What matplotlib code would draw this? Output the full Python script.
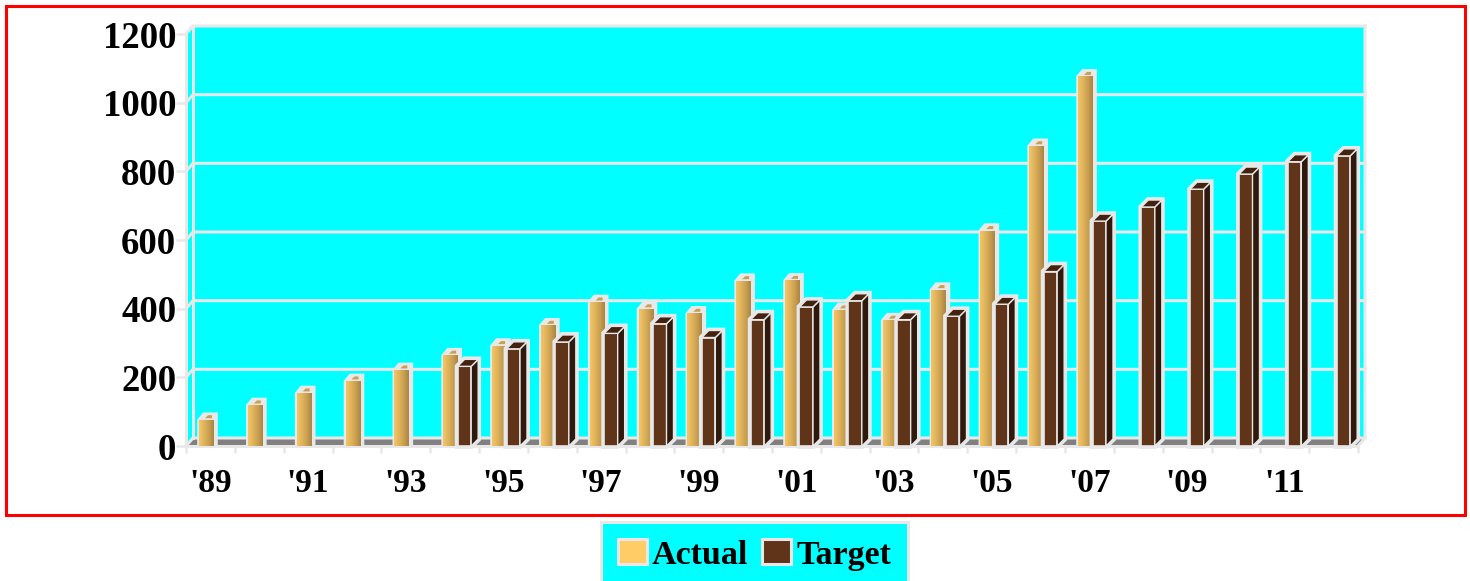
import numpy as np
import matplotlib
matplotlib.use("Agg")
import matplotlib.pyplot as plt
from matplotlib.colors import LinearSegmentedColormap
from matplotlib.patches import Patch, Polygon, Rectangle

# Yearly figures, '89 through '12
years = ["'89", "'90", "'91", "'92", "'93", "'94", "'95", "'96", "'97", "'98", "'99", "'00",
         "'01", "'02", "'03", "'04", "'05", "'06", "'07", "'08", "'09", "'10", "'11", "'12"]
actual = [75, 118, 153, 188, 220, 263, 291, 350, 418, 398, 385, 480,
          481, 395, 365, 454, 626, 873, 1075, None, None, None, None, None]
target = [None, None, None, None, None, 232, 283, 303, 328, 356, 316, 368,
          405, 423, 368, 378, 413, 508, 655, 696, 748, 792, 828, 845]
y_ticks = [0, 200, 400, 600, 800, 1000, 1200]

W, H = 1470, 581
LINE = "#e8e8e8"
CYAN = "#00ffff"
plt.rcParams["font.family"] = ["Liberation Serif", "DejaVu Serif"]
plt.rcParams["font.weight"] = "bold"

fig = plt.figure(figsize=(W / 100, H / 100), dpi=100)
LEFT, RIGHT, BASE, TOP = 186, 1358, 446, 34
ax = fig.add_axes([LEFT / W, (H - BASE) / H, (RIGHT - LEFT) / W, (BASE - TOP) / H])
ax.set_xlim(-0.5, 23.5)
ax.set_ylim(0, 1200)

# Size of one pixel in data units
px = 24 / (RIGHT - LEFT)
py = 1200 / (BASE - TOP)
DX, DY = 7 * px, 8 * py
x0, x1 = -0.5, 23.5

# Outer frame
fig.add_artist(Rectangle((5.5 / W, (H - 515) / H), 1459 / W, 509 / H, transform=fig.transFigure,
                         fill=False, edgecolor="#ff0000", linewidth=2.2))

# Back wall, side wall and floor
ax.add_patch(Polygon([(x0, 0), (x0 + DX, DY), (x1 + DX, DY), (x1 + DX, 1200 + DY),
                      (x0 + DX, 1200 + DY), (x0, 1200)], closed=True, facecolor=CYAN,
                     edgecolor="none", clip_on=False, zorder=0.5))
ax.add_patch(Polygon([(x0, 0), (x0 + DX, DY), (x1 + DX, DY), (x1, 0)], closed=True,
                     facecolor="#808080", edgecolor="none", clip_on=False, zorder=0.6))
for v in y_ticks:
    ax.plot([x0, x0 + DX, x1 + DX], [v, v + DY, v + DY], color=LINE, lw=2.2,
            clip_on=False, zorder=0.8, solid_joinstyle="miter")
ax.plot([x0 + DX, x0 + DX], [DY, 1200 + DY], color=LINE, lw=2.2, clip_on=False, zorder=0.8)
ax.plot([x1 + DX, x1 + DX, x1], [1200 + DY, DY, 0], color=LINE, lw=2.2, clip_on=False, zorder=0.8)

gold = LinearSegmentedColormap.from_list("gold", ["#f4c566", "#e0b45c", "#c9a052", "#a98544"])
grad = np.linspace(0, 1, 32).reshape(1, -1)

A_OFF, A_W = 13 * px, 15 * px
T_OFF, T_W = 27.5 * px, 13.5 * px
T_DX, T_DY = 7 * px, 7 * py

for i, (a, t) in enumerate(zip(actual, target)):
    base = i - 0.5
    z = 2 + i * 0.1
    if a is not None:
        l = base + A_OFF
        r = l + A_W
        ax.add_patch(Polygon([(l, 0), (l, a), (l + 5 * px, a + 6 * py), (r + 2 * px, a + 6 * py),
                              (r + 2 * px, 0)], closed=True, facecolor=LINE, edgecolor=LINE,
                             lw=2.6, clip_on=False, zorder=z))
        ax.imshow(grad, cmap=gold, extent=(l, r, 0, a), aspect="auto", zorder=z + 0.01,
                  interpolation="bilinear", clip_on=False)
        ax.add_patch(Polygon([(l + 6 * px, a + 2 * py), (l + 9 * px, a + 5 * py),
                              (l + 13 * px, a + 5 * py), (l + 13 * px, a + 2 * py)], closed=True,
                             facecolor="#c9a052", edgecolor="none", clip_on=False, zorder=z + 0.02))
    if t is not None:
        l = base + T_OFF
        r = l + T_W
        ax.add_patch(Polygon([(l, 0), (l, t), (l + T_DX, t + T_DY), (r + T_DX, t + T_DY),
                              (r + T_DX, T_DY), (r, 0)], closed=True, facecolor=LINE,
                             edgecolor=LINE, lw=4.2, joinstyle="miter", clip_on=False, zorder=z + 0.03))
        ax.bar(l, t, width=T_W, align="edge", color="#5f3419", edgecolor=LINE, linewidth=1.2,
               clip_on=False, zorder=z + 0.04)
        ax.add_patch(Polygon([(r, 0), (r, t), (r + T_DX, t + T_DY), (r + T_DX, T_DY)], closed=True,
                             facecolor="#2e190c", edgecolor=LINE, lw=1.0, clip_on=False, zorder=z + 0.05))
        ax.add_patch(Polygon([(l, t), (l + T_DX, t + T_DY), (r + T_DX, t + T_DY), (r, t)], closed=True,
                             facecolor="#43230f", edgecolor=LINE, lw=1.0, clip_on=False, zorder=z + 0.05))

ax.set_xlim(-0.5, 23.5)
ax.set_ylim(0, 1200)

for side in ("top", "right"):
    ax.spines[side].set_visible(False)
for side in ("left", "bottom"):
    ax.spines[side].set_color(LINE)
    ax.spines[side].set_linewidth(2.2)
    ax.spines[side].set_zorder(1.5)
ax.patch.set_visible(False)

ax.set_yticks(y_ticks)
ax.tick_params(axis="y", length=7, width=1.8, color=LINE, labelsize=26.5, pad=0)
ax.set_xticks(np.arange(-0.5, 24, 1))
ax.set_xticklabels([])
ax.tick_params(axis="x", which="major", length=5, width=1.8, color=LINE)
ax.set_xticks(np.arange(0, 24, 2), minor=True)
ax.set_xticklabels(years[::2], minor=True)
ax.tick_params(axis="x", which="minor", length=0, labelsize=24, pad=16)

handles = [Patch(facecolor="#ffcc66", edgecolor=LINE, linewidth=2.2, label="Actual"),
           Patch(facecolor="#5f3419", edgecolor=LINE, linewidth=2.2, label="Target")]
legend = fig.legend(handles=handles, loc="center", bbox_to_anchor=(754.5 / W, (H - 555) / H),
                    ncol=2, fontsize=24.5, frameon=True, fancybox=False, facecolor=CYAN,
                    edgecolor=LINE, framealpha=1, handlelength=0.85, handleheight=0.75,
                    handletextpad=0.14, columnspacing=0.42, borderpad=0.5, borderaxespad=0)
legend.get_frame().set_linewidth(2.2)

fig.savefig("out.png", dpi=100, facecolor="white")
